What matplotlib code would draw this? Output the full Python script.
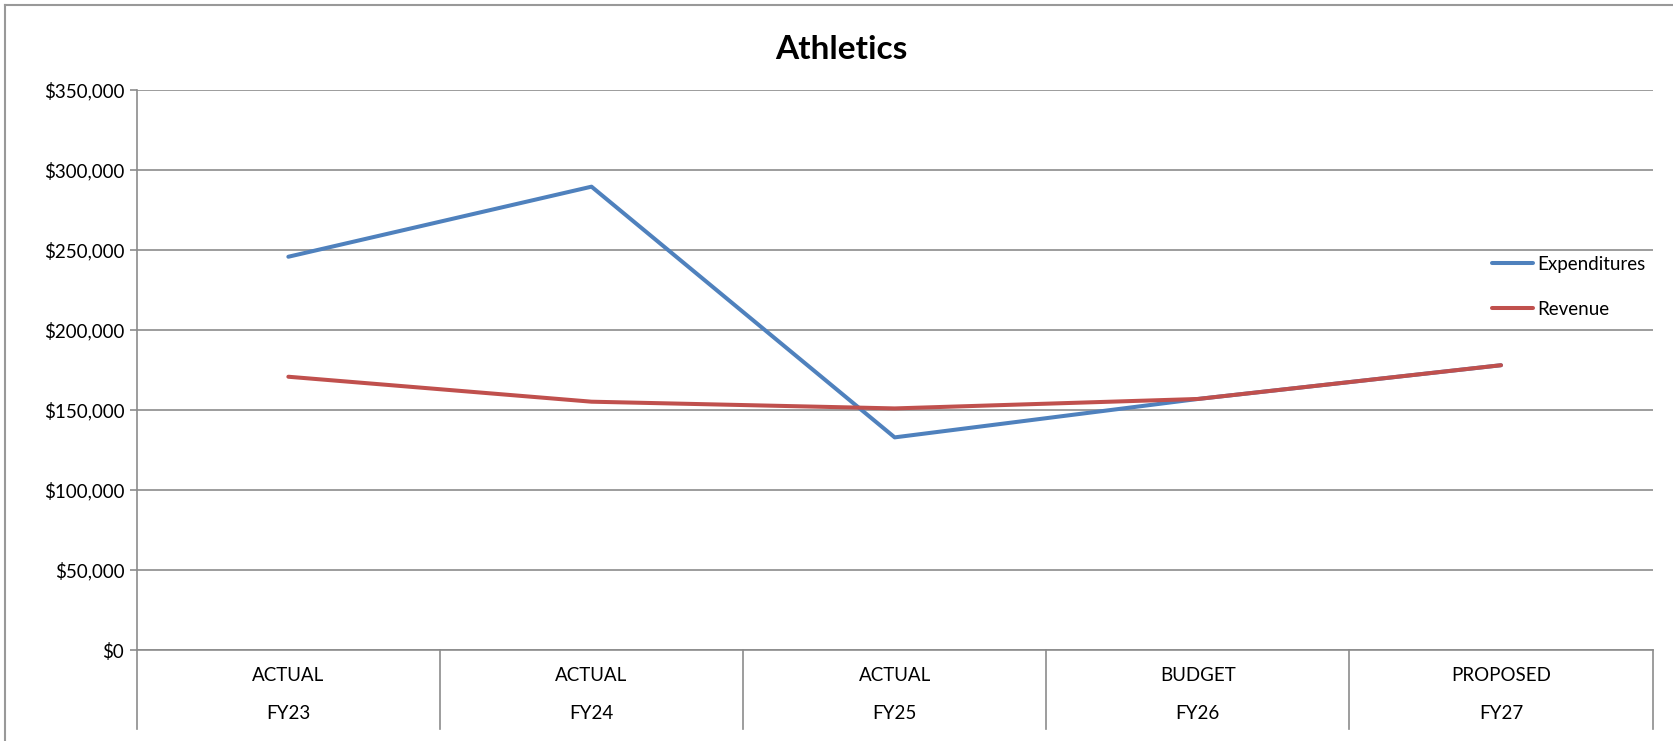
import matplotlib.pyplot as plt
import matplotlib.transforms as mtransforms
from matplotlib.ticker import FuncFormatter, MultipleLocator

plt.rcParams['font.family'] = ['Lato', 'DejaVu Sans']

# data
stages = ['ACTUAL', 'ACTUAL', 'ACTUAL', 'BUDGET', 'PROPOSED']
years = ['FY23', 'FY24', 'FY25', 'FY26', 'FY27']
expenditures = [245800, 289600, 132900, 156900, 178000]
revenue = [170800, 155200, 151000, 156900, 178000]

blue = '#4F81BD'
red = '#C0504D'
grid_col = '#8c8c8c'
fs = 13.5

fig = plt.figure(figsize=(16.74, 7.41), dpi=100)
ax = fig.add_axes([0.0817, 0.1228, 0.9055, 0.7557])

x = list(range(len(years)))
ax.plot(x, expenditures, color=blue, lw=2.9, label='Expenditures', solid_capstyle='round')
ax.plot(x, revenue, color=red, lw=2.9, label='Revenue', solid_capstyle='round')

ax.set_xlim(-0.5, len(years) - 0.5)
ax.set_ylim(0, 350000)
ax.yaxis.set_major_locator(MultipleLocator(50000))
ax.yaxis.set_major_formatter(FuncFormatter(lambda v, p: '${:,.0f}'.format(v)))
ax.grid(axis='y', color=grid_col, lw=1.2)
ax.set_axisbelow(True)

for s in ['top', 'right']:
    ax.spines[s].set_visible(False)
ax.spines['left'].set_color(grid_col)
ax.spines['bottom'].set_color(grid_col)
ax.spines['left'].set_linewidth(1.2)
ax.spines['bottom'].set_linewidth(1.2)
ax.tick_params(axis='y', length=5, color=grid_col, width=1.2, labelsize=fs, pad=4)
ax.set_xticks([])

# two-row category axis with separators
trans = mtransforms.blended_transform_factory(ax.transData, ax.transAxes)
for b in [i - 0.5 for i in range(len(years) + 1)]:
    ax.plot([b, b], [0, -0.141], transform=trans, color=grid_col, lw=1.2, clip_on=False)
for i in x:
    ax.text(i, -0.046, stages[i], transform=trans, ha='center', va='center', fontsize=fs)
    ax.text(i, -0.114, years[i], transform=trans, ha='center', va='center', fontsize=fs)

ax.legend(loc='upper left', bbox_to_anchor=(0.8913, 0.655), bbox_transform=fig.transFigure,
          frameon=False, fontsize=fs, handlelength=2.2, handletextpad=0.2,
          labelspacing=1.5, borderpad=0, borderaxespad=0)

fig.text(0.5025, 0.933, 'Athletics', ha='center', va='center', fontsize=24, fontweight='bold')

# chart border (only top and left visible in reference)
fig.add_artist(plt.Line2D([0.003, 0.003], [0, 0.993], transform=fig.transFigure, color='#999999', lw=1.5))
fig.add_artist(plt.Line2D([0.003, 1], [0.993, 0.993], transform=fig.transFigure, color='#999999', lw=1.5))

fig.savefig('out.png', dpi=100)
